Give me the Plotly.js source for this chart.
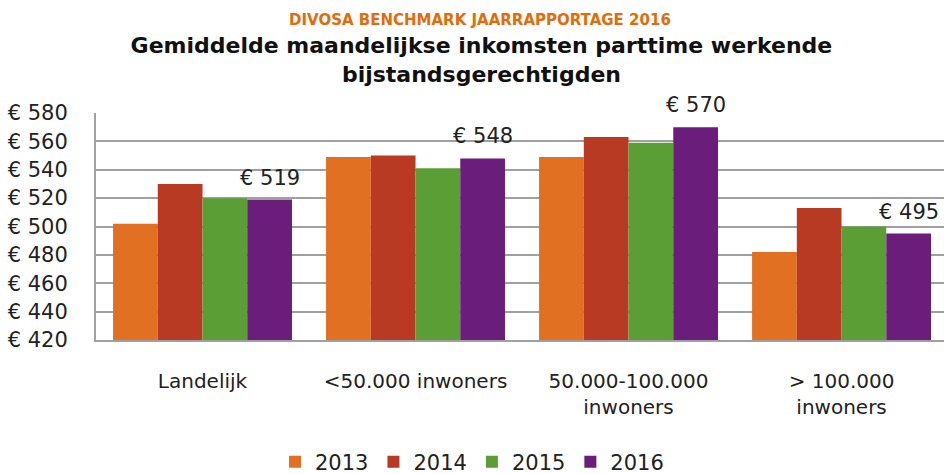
<!DOCTYPE html>
<html><head><meta charset="utf-8">
<script src="https://cdn.plot.ly/plotly-3.0.1.min.js"></script>
<style>body{margin:0;background:#fff}#chart{width:944px;height:474px}</style>
</head><body><div id="chart"></div>
<script>
const categories = ["Landelijk", "<50.000 inwoners", "50.000-100.000<br>inwoners", "> 100.000<br>inwoners"];
const years = ["2013", "2014", "2015", "2016"];
const v2013 = [502, 549, 549, 482];
const v2014 = [530, 550, 563, 513];
const v2015 = [520, 541, 559, 500];
const v2016 = [519, 548, 570, 495];
const colors = ["#E27022", "#B93A22", "#5A9E35", "#6A1D7B"];
const series = [v2013, v2014, v2015, v2016];
const FONT = "DejaVu Sans, Verdana, sans-serif";

const BARGAP = 0.16;
const traces = series.map((vals, i) => ({
  type: "bar", name: years[i], x: categories, y: vals,
  marker: {color: colors[i]}, hoverinfo: "none"
}));

// labels for the 2016 bars (data values from v2016)
const plotW = 848, xRange = [-0.5, 3.481];
const catPx = plotW / (xRange[1] - xRange[0]);
const barPx = catPx * (1 - BARGAP) / series.length;
const labelAnn = v2016.map((v, j) => ({
  x: categories[j], y: v, xref: "x", yref: "y", text: "€ " + v, showarrow: false,
  xanchor: "center", yanchor: "bottom", xshift: barPx * 1.5, yshift: 8,
  font: {family: FONT, size: 21, color: "#222"}
}));

const layout = {
  width: 944, height: 474,
  margin: {l: 96, r: 0, t: 113, b: 134},
  paper_bgcolor: "#fff", plot_bgcolor: "#fff",
  barmode: "group", bargap: BARGAP, bargroupgap: 0,
  font: {family: FONT, size: 21, color: "#222"},
  title: {text: "<b>Gemiddelde maandelijkse inkomsten parttime werkende<br>bijstandsgerechtigden</b>",
    font: {family: FONT, size: 22, color: "#111"},
    x: 0.51, xref: "container", xanchor: "center", y: 1 - 53/474, yref: "container", yanchor: "middle"},
  annotations: [{text: "<b>DIVOSA BENCHMARK JAARRAPPORTAGE 2016</b>", xref: "paper", yref: "paper",
    x: (480 - 96) / 848, y: 1 + (113 - 20) / 227, xanchor: "center", yanchor: "middle", showarrow: false,
    font: {family: FONT, size: 15, color: "#E36C0A"}}].concat(labelAnn),
  xaxis: {range: xRange, showgrid: false, showline: true, linecolor: "#A0A0A0", linewidth: 2,
    ticks: "", ticklabelstandoff: 22, tickfont: {family: FONT, size: 20, color: "#222"}, fixedrange: true},
  yaxis: {range: [420, 580], dtick: 20, tick0: 420, tickprefix: "€ ", showgrid: true,
    gridcolor: "#A0A0A0", gridwidth: 2, showline: true, linecolor: "#A0A0A0", linewidth: 2,
    zeroline: false, ticks: "", ticklabelstandoff: 22, tickfont: {family: FONT, size: 21, color: "#222"}},
  showlegend: true,
  legend: {orientation: "h", xref: "container", yref: "container", x: 0.5, y: 12 / 474,
    xanchor: "center", yanchor: "middle",
    font: {family: FONT, size: 21, color: "#222"}, itemwidth: 30, traceorder: "normal"}
};
Plotly.newPlot("chart", traces, layout, {staticPlot: true});
</script></body></html>
